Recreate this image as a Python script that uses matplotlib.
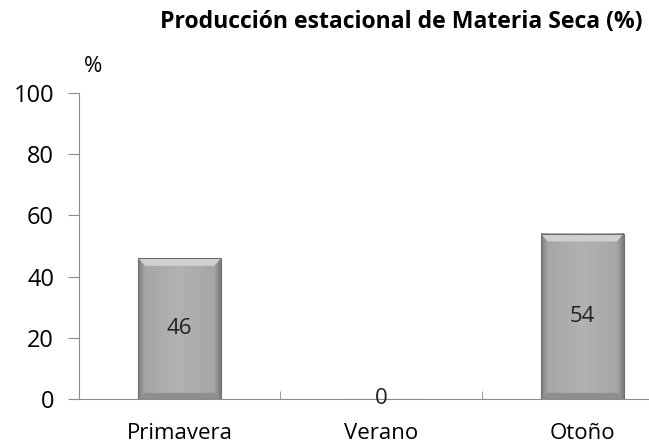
import numpy as np
import matplotlib.pyplot as plt
from matplotlib.colors import LinearSegmentedColormap

categories = ['Primavera', 'Verano', 'Otoño']
values = [46, 0, 54]
yticks = [0, 20, 40, 60, 80, 100]

plt.rcParams['font.family'] = ['Open Sans', 'DejaVu Sans']

fig = plt.figure(figsize=(6.49, 4.43), dpi=100)
ax = fig.add_axes([79 / 649, 1 - 399 / 443, 604 / 649, 306 / 443])

x = np.arange(len(categories))
bar_w = 0.41

# bevelled grey bars: mostly flat grey, darker thin edges
cmap = LinearSegmentedColormap.from_list(
    'bev', [(0, '#7c7c7c'), (0.08, '#a6a6a6'), (0.5, '#b2b2b2'), (0.92, '#a6a6a6'), (1, '#7c7c7c')])
grad = np.linspace(0, 1, 200).reshape(1, -1)
bars = ax.bar(x, values, width=bar_w, color='none', edgecolor='#707070', linewidth=0.8, zorder=3)
for b, v in zip(bars, values):
    if v <= 0:
        continue
    x0, w = b.get_x(), b.get_width()
    ax.imshow(grad, cmap=cmap, aspect='auto', extent=(x0, x0 + w, 0, v), zorder=2)
    # light top bevel and darker bottom bevel
    ax.fill([x0, x0 + w, x0 + w * 0.92, x0 + w * 0.08], [v, v, v - 2.5, v - 2.5],
            color='#d0d0d0', zorder=2.5, linewidth=0)
    ax.fill([x0, x0 + w, x0 + w * 0.92, x0 + w * 0.08], [0, 0, 2, 2],
            color='#8e8e8e', zorder=2.5, linewidth=0)

for xi, v in zip(x, values):
    ax.text(xi, v / 2, str(v), ha='center', va='center', fontsize=16, color='#222222', zorder=4)

ax.set_xlim(-0.5, 2.5)
ax.set_ylim(0, 100)
ax.set_yticks(yticks)
ax.set_xticks(x)
ax.set_xticklabels(categories)
ax.set_xticks([0.5, 1.5], minor=True)
ax.tick_params(axis='x', which='major', length=0, pad=17, labelsize=16)
ax.tick_params(axis='x', which='minor', length=6, direction='in', color='#8c8c8c')
ax.tick_params(axis='y', length=8, direction='out', pad=10, labelsize=17, color='#8c8c8c')
for s in ['top', 'right']:
    ax.spines[s].set_visible(False)
ax.spines['left'].set_color('#8c8c8c')
ax.spines['bottom'].set_color('#8c8c8c')

fig.text(643 / 649, 1 - 22 / 443, 'Producción estacional de Materia Seca (%)', ha='right', va='center',
         fontsize=16.6, fontweight='bold')
fig.text(93 / 649, 1 - 66 / 443, '%', ha='center', va='center', fontsize=16)

fig.savefig('out.png', dpi=100)
